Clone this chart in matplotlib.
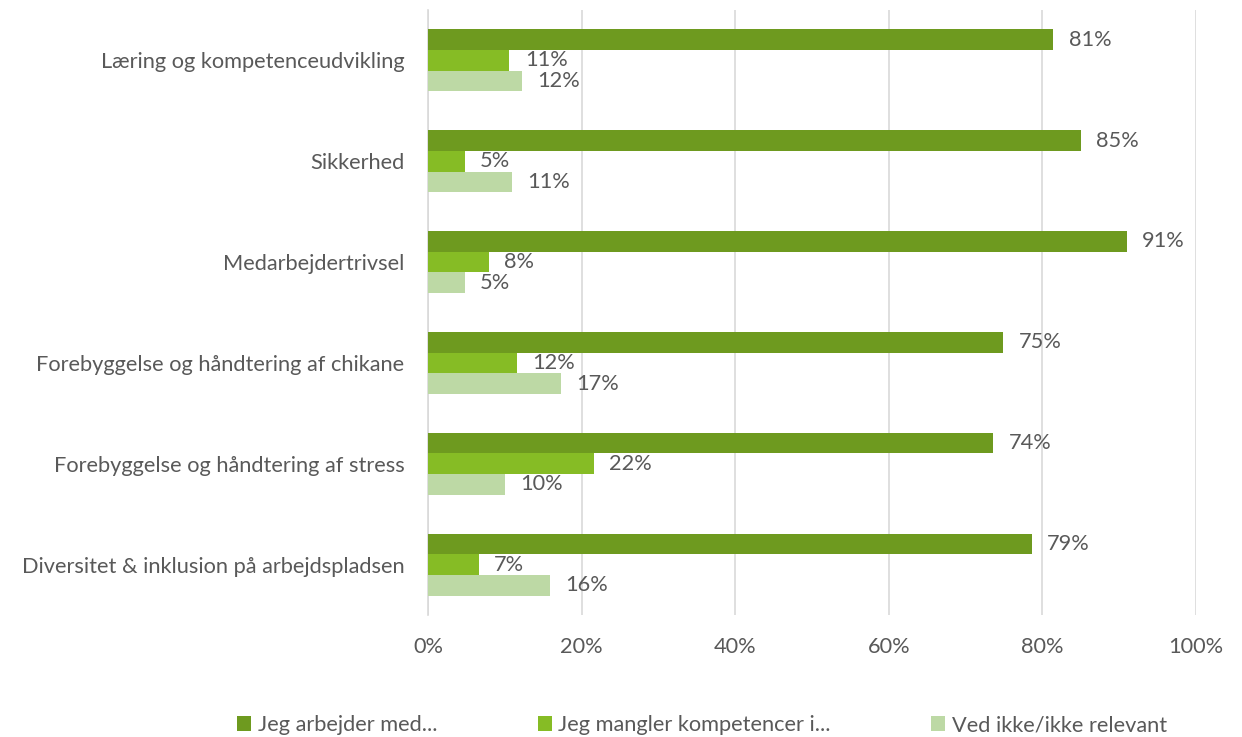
import numpy as np
import matplotlib.pyplot as plt
from matplotlib.ticker import FuncFormatter

plt.rcParams['font.family'] = ['Lato', 'DejaVu Sans']

categories = ["Læring og kompetenceudvikling", "Sikkerhed", "Medarbejdertrivsel",
              "Forebyggelse og håndtering af chikane",
              "Forebyggelse og håndtering af stress",
              "Diversitet & inklusion på arbejdspladsen"]
series_names = ["Jeg arbejder med...", "Jeg mangler kompetencer i...", "Ved ikke/ikke relevant"]
arbejder = [81.4, 85.0, 91.0, 74.9, 73.6, 78.6]
mangler = [10.6, 4.8, 7.9, 11.6, 21.6, 6.6]
ved_ikke = [12.2, 10.9, 4.8, 17.3, 10.0, 15.9]
colors = ["#6e9a1f", "#86bc25", "#bdd9a5"]
txt = "#595959"
fs = 15.7

fig = plt.figure(figsize=(12.42, 7.37), dpi=100)
ax = fig.add_axes([428 / 1242, 1 - 615 / 737, 768 / 1242, 605 / 737])

y = np.arange(len(categories))
h = 0.205
for i, (vals, name) in enumerate(zip([arbejder, mangler, ved_ikke], series_names)):
    pos = y + (i - 1) * h
    ax.barh(pos, vals, height=h, color=colors[i], label=name, zorder=3)
    for p, v in zip(pos, vals):
        ax.text(v + 2.0, p, f"{v:.0f}%", va="center", ha="left",
                fontsize=fs, color=txt)

ax.set_xlim(0, 100)
ax.set_ylim(len(categories) - 0.5, -0.5)
ax.set_xticks(np.arange(0, 101, 20))
ax.xaxis.set_major_formatter(FuncFormatter(lambda v, p: f"{v:.0f}%"))
ax.set_yticks(y)
ax.set_yticklabels(categories)
ax.grid(axis="x", color="#d9d9d9", linewidth=1.2, zorder=0)
for s in ["top", "right", "bottom"]:
    ax.spines[s].set_visible(False)
ax.spines["left"].set_color("#d9d9d9")
ax.spines["left"].set_linewidth(1.2)
ax.tick_params(axis="both", length=0, labelsize=fs, labelcolor=txt)
ax.tick_params(axis="x", pad=16)
ax.tick_params(axis="y", pad=17)

fig.legend(loc="center", bbox_to_anchor=(702 / 1242, 1 - 725 / 737), ncol=3,
           frameon=False, fontsize=fs, labelcolor=txt, handlelength=0.65,
           handleheight=0.65, handletextpad=0.3, columnspacing=4.6)

plt.savefig("out.png", dpi=100)
